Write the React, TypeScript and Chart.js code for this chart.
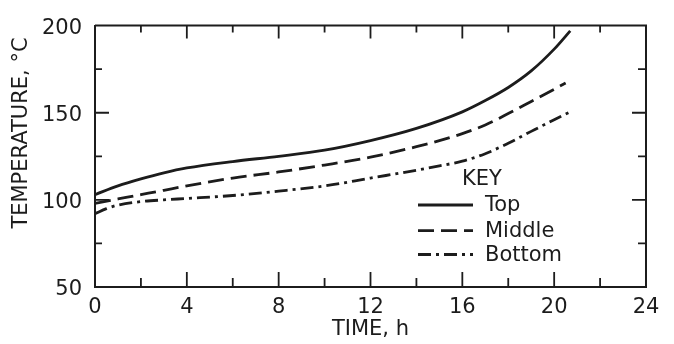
import React, { useEffect, useRef } from "react";
import { Chart, registerables } from "chart.js";

Chart.register(...registerables);

// ---- data ----
const timeTop = [0, 1, 2, 3, 4, 6, 8, 10, 12, 14, 16, 17, 18, 19, 20, 20.7];
const tempTop = [103, 108, 112, 115.5, 118.3, 122, 125, 128.5, 134, 141, 150.5, 157, 164.5, 174, 186.5, 197];

const timeMid = [0, 1, 2, 3, 4, 6, 8, 10, 12, 14, 15, 16, 17, 18, 19, 20, 20.5];
const tempMid = [98, 100.5, 103, 105.5, 108, 112.5, 116, 120, 124.5, 130.5, 134, 138, 143, 149.5, 156.5, 163.5, 167];

const timeBot = [0, 0.5, 1, 2, 3, 4, 6, 8, 10, 12, 14, 15, 16, 17, 18, 19, 20, 20.7];
const tempBot = [92, 95, 97, 99, 100, 100.8, 102.5, 105, 108, 112.5, 117, 119.5, 122.2, 126.5, 132.5, 139.3, 146, 150.5];

const seriesNames = ["Top", "Middle", "Bottom"];
const xTicksMinor = [2, 4, 6, 8, 10, 12, 14, 16, 18, 20, 22];
const yTicksMinor = [75, 100, 125, 150, 175];
const xTitle = "TIME, h";
const yTitle = "TEMPERATURE, \u00B0C";
const legendTitle = "KEY";

const INK = "#1c1c1c";
const FONT = "'DejaVu Sans', sans-serif";

const toPts = (xs: number[], ys: number[]) => xs.map((x, i) => ({ x, y: ys[i] }));

const framePlugin = {
  id: "frameTicks",
  afterDraw(chart: any) {
    const { ctx, chartArea: a, scales } = chart;
    const xs = scales.x;
    const ys = scales.y;
    ctx.save();
    ctx.strokeStyle = INK;
    ctx.lineWidth = 2;
    ctx.beginPath();
    ctx.moveTo(a.left, a.top);
    ctx.lineTo(a.right, a.top);
    ctx.lineTo(a.right, a.bottom);
    ctx.stroke();
    ctx.lineWidth = 1.8;
    ctx.beginPath();
    for (const v of xTicksMinor) {
      const px = xs.getPixelForValue(v);
      const major = v % 4 === 0;
      const lb = major ? 15 : 9;
      const lt = major ? 13 : 7;
      ctx.moveTo(px, a.bottom);
      ctx.lineTo(px, a.bottom - lb);
      ctx.moveTo(px, a.top);
      ctx.lineTo(px, a.top + lt);
    }
    for (const v of yTicksMinor) {
      const py = ys.getPixelForValue(v);
      const major = v % 50 === 0;
      const l = major ? 14 : 7;
      const r = major ? 14 : 8;
      ctx.moveTo(a.left, py);
      ctx.lineTo(a.left + l, py);
      ctx.moveTo(a.right, py);
      ctx.lineTo(a.right - r, py);
    }
    ctx.stroke();

    ctx.fillStyle = INK;
    ctx.font = `21px ${FONT}`;
    ctx.textAlign = "center";
    ctx.textBaseline = "middle";
    ctx.translate(22, 133);
    ctx.rotate(-Math.PI / 2);
    ctx.fillText(yTitle, 0, 0);
    ctx.restore();

    ctx.save();
    ctx.fillStyle = INK;
    ctx.font = `21px ${FONT}`;
    ctx.textAlign = "center";
    ctx.textBaseline = "middle";
    ctx.fillText(legendTitle, 482, 180);
    const rows = [205, 230.7, 254.5];
    chart.data.datasets.forEach((ds: any, i: number) => {
      ctx.strokeStyle = ds.borderColor;
      ctx.lineWidth = ds.borderWidth;
      ctx.setLineDash(ds.borderDash || []);
      ctx.beginPath();
      ctx.moveTo(418, rows[i]);
      ctx.lineTo(473, rows[i]);
      ctx.stroke();
      ctx.setLineDash([]);
      ctx.textAlign = "left";
      ctx.fillText(ds.label, 485, rows[i] + 1);
    });
    ctx.restore();
  },
};

export default function App() {
  const ref = useRef<HTMLCanvasElement | null>(null);
  useEffect(() => {
    if (!ref.current) return;
    const common = {
      borderColor: INK,
      borderWidth: 2.8,
      pointRadius: 0,
      fill: false,
      cubicInterpolationMode: "monotone" as const,
    };
    const chart = new Chart(ref.current, {
      type: "line",
      data: {
        datasets: [
          { ...common, label: seriesNames[0], data: toPts(timeTop, tempTop) },
          { ...common, label: seriesNames[1], data: toPts(timeMid, tempMid), borderDash: [16, 7] },
          { ...common, label: seriesNames[2], data: toPts(timeBot, tempBot), borderDash: [13, 5, 3, 5] },
        ],
      },
      options: {
        responsive: false,
        animation: false,
        layout: { padding: { top: 13, right: 28, left: 0, bottom: 0 } },
        plugins: { legend: { display: false }, tooltip: { enabled: false } },
        scales: {
          x: {
            type: "linear",
            min: 0,
            max: 24,
            ticks: { stepSize: 4, color: INK, font: { family: FONT, size: 21 }, padding: 8, maxRotation: 0 },
            grid: { display: false, drawTicks: false },
            border: { display: true, color: INK, width: 2 },
            title: { display: true, text: xTitle, color: INK, font: { family: FONT, size: 21 }, padding: { top: 0, bottom: 2 } },
            afterFit: (s: any) => { s.height = 57; },
          },
          y: {
            type: "linear",
            min: 50,
            max: 200,
            ticks: { stepSize: 50, color: INK, font: { family: FONT, size: 21 }, padding: 13, labelOffset: 3 },
            grid: { display: false, drawTicks: false },
            border: { display: true, color: INK, width: 2 },
            afterFit: (s: any) => { s.width = 95; },
          },
        },
      },
      plugins: [framePlugin],
    } as any);
    return () => chart.destroy();
  }, []);
  return (
    <div style={{ position: "fixed", left: 0, top: 0, width: 674, height: 344, background: "#fff" }}>
      <canvas ref={ref} width={674} height={344} style={{ display: "block" }} />
    </div>
  );
}
